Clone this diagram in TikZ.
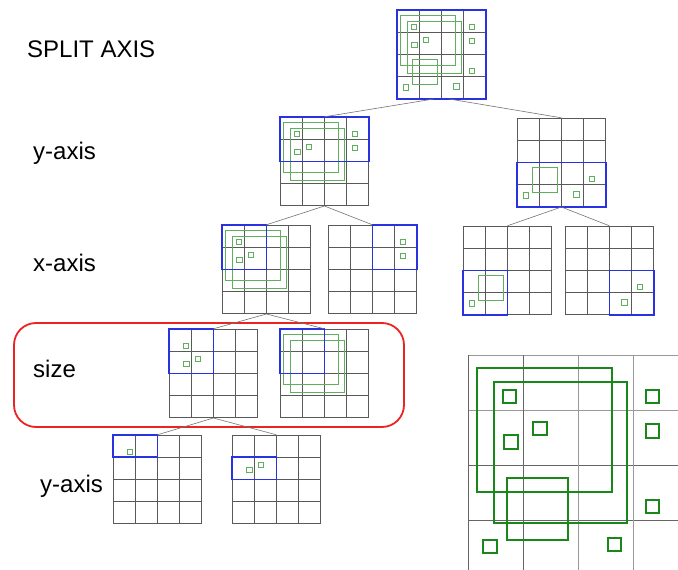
\documentclass[tikz,border=0pt]{standalone}
\usepackage{fontspec}
\setmainfont{Liberation Sans}
\definecolor{kdblue}{RGB}{40,50,225}
\definecolor{kdgreen}{RGB}{95,175,95}
\definecolor{kddark}{RGB}{25,135,25}
\definecolor{kdred}{RGB}{235,35,35}
\tikzset{
  gridline/.style={draw=black!65, line width=0.8pt},
  splitbox/.style={draw=kdblue, line width=1.8pt},
  obj/.style={draw=kdgreen, line width=0.7pt},
  bigobj/.style={draw=kddark, line width=2pt},
  zoomline/.style={draw=black!40, line width=0.7pt},
  zoomdark/.style={draw=black!60, line width=0.9pt},
  gridnode/.style={rectangle, minimum size=88.8pt, inner sep=0pt, draw=none},
  link/.style={draw=black!55, line width=0.6pt},
  axislabel/.style={anchor=base west, inner sep=0pt, font=\fontsize{24}{28}\selectfont},
  focus/.style={draw=kdred, line width=1.8pt, rounded corners=22pt},
}
% a 4x4 cell grid with its top-left corner at (#2,#3); #4 = contents in cell units
\newcommand\kdgrid[4]{%
  \begin{scope}[shift={(#2,#3)}, x=22.2pt, y=-22.2pt]
    \foreach \i in {0,...,4} {
      \draw[gridline] (\i,0) -- (\i,4);
      \draw[gridline] (0,\i) -- (4,\i);
    }
    #4
    \node[gridnode] (#1) at (2,2) {};
  \end{scope}}
% stored objects, in cell units
\newcommand\kdsq[3][obj]{\draw[#1] (#2,#3) ++(-0.12,-0.12) rectangle ++(0.24,0.24);}
\newcommand\objA[1][obj]{\draw[#1] (0.16,0.24) rectangle (2.62,2.49);}
\newcommand\objB[1][obj]{\draw[#1] (0.46,0.50) rectangle (2.90,2.85);}
\newcommand\objC[1][obj]{\draw[#1] (0.71,2.24) rectangle (1.82,3.36);}
\newcommand\sqa[1][obj]{\kdsq[#1]{0.75}{0.75}}
\newcommand\sqb[1][obj]{\kdsq[#1]{1.31}{1.33}}
\newcommand\sqc[1][obj]{\kdsq[#1]{0.78}{1.58}}
\newcommand\sqd[1][obj]{\kdsq[#1]{3.36}{0.75}}
\newcommand\sqe[1][obj]{\kdsq[#1]{3.36}{1.38}}
\newcommand\sqf[1][obj]{\kdsq[#1]{3.36}{2.75}}
\newcommand\sqg[1][obj]{\kdsq[#1]{0.40}{3.48}}
\newcommand\sqh[1][obj]{\kdsq[#1]{2.67}{3.44}}

\begin{document}
\begin{tikzpicture}[x=1pt, y=-1pt]
  \useasboundingbox (0,0) rectangle (678,570);

  % axis labels
  \node[axislabel] (lsplit) at (27,57)  {SPLIT AXIS};
  \node[axislabel] (ly1)    at (33,159) {y-axis};
  \node[axislabel] (lx)     at (33,271) {x-axis};
  \node[axislabel] (lsize)  at (33,377) {size};
  \node[axislabel] (ly2)    at (40,492) {y-axis};

  % highlighted level
  \draw[focus] (14,323) rectangle (404,427);

  % root
  \kdgrid{root}{397}{10}{\objA \objB \objC \sqa \sqb \sqc \sqd \sqe \sqf \sqg \sqh
    \draw[splitbox] (0,0) rectangle (4,4);}

  % level 1: y-axis
  \kdgrid{ya}{280}{117}{\objA \objB \sqa \sqb \sqc \sqd \sqe
    \draw[splitbox] (0,0) rectangle (4,2);}
  \kdgrid{yb}{517}{118}{\objC \sqf \sqg \sqh
    \draw[splitbox] (0,2) rectangle (4,4);}

  % level 2: x-axis
  \kdgrid{xa}{222}{225}{\objA \objB \sqa \sqb \sqc
    \draw[splitbox] (0,0) rectangle (2,2);}
  \kdgrid{xb}{328}{225}{\sqd \sqe
    \draw[splitbox] (2,0) rectangle (4,2);}
  \kdgrid{xc}{463}{226}{\objC \sqg
    \draw[splitbox] (0,2) rectangle (2,4);}
  \kdgrid{xd}{565}{226}{\sqf \sqh
    \draw[splitbox] (2,2) rectangle (4,4);}

  % level 3: size
  \kdgrid{sa}{169}{329}{\sqa \sqb \sqc
    \draw[splitbox] (0,0) rectangle (2,2);}
  \kdgrid{sb}{280}{329}{\objA \objB
    \draw[splitbox] (0,0) rectangle (2,2);}

  % level 4: y-axis
  \kdgrid{ta}{113}{435}{\sqa
    \draw[splitbox] (0,0) rectangle (2,1);}
  \kdgrid{tb}{232}{435}{\sqb \sqc
    \draw[splitbox] (0,1) rectangle (2,2);}

  % tree edges
  \draw[link] (root.-100) -- (ya.north);
  \draw[link] (root.-80)  -- (yb.north);
  \foreach \p/\c in {ya/xa, ya/xb, yb/xc, yb/xd, xa/sa, xa/sb, sa/ta, sa/tb}
    \draw[link] (\p.south) -- (\c.north);

  % magnified view of the root cell
  \begin{scope}
    \clip (0,0) rectangle (678,570);
    \begin{scope}[shift={(468,355)}, x=55pt, y=-55pt]
      \draw[zoomline] (0,0) -- (4.2,0);
      \draw[zoomline] (0,1) -- (4.2,1);
      \draw[zoomdark] (0,2) -- (4.2,2);
      \draw[zoomdark] (0,3) -- (4.2,3);
      \draw[zoomdark] (1,0) -- (1,4.2);
      \draw[zoomline] (2,0) -- (2,4.2);
      \draw[zoomline] (3,0) -- (3,4.2);
      \draw[draw=black!60, line width=1pt] (0,0) -- (0,4.2);
      \objA[bigobj]
      \draw[bigobj] (0.47,0.49) rectangle (2.89,3.05);
      \objC[bigobj]
      \sqa[bigobj] \sqb[bigobj] \sqc[bigobj] \sqd[bigobj]
      \sqe[bigobj] \sqf[bigobj] \sqg[bigobj] \sqh[bigobj]
    \end{scope}
  \end{scope}
\end{tikzpicture}
\end{document}
